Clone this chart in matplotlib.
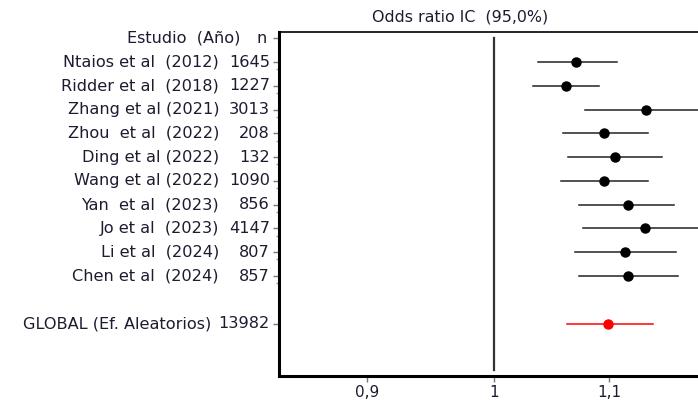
import numpy as np
import matplotlib.pyplot as plt
from matplotlib.transforms import blended_transform_factory
from matplotlib.ticker import NullLocator, FixedLocator

estudios = ["Ntaios et al  (2012)", "Ridder et al  (2018)", "Zhang et al (2021)",
            "Zhou  et al  (2022)", "Ding et al (2022)", "Wang et al (2022)",
            "Yan  et al  (2023)", "Jo et al  (2023)", "Li et al  (2024)",
            "Chen et al  (2024)"]
n = [1645, 1227, 3013, 208, 132, 1090, 856, 4147, 807, 857]
odds = [1.070, 1.061, 1.134, 1.095, 1.105, 1.095, 1.117, 1.133, 1.115, 1.117]
ic_inf = [1.037, 1.033, 1.078, 1.059, 1.063, 1.057, 1.073, 1.076, 1.069, 1.073]
ic_sup = [1.107, 1.091, 1.192, 1.136, 1.149, 1.136, 1.161, 1.194, 1.163, 1.165]

global_label = "GLOBAL (Ef. Aleatorios)"
global_n = 13982
global_or = 1.099
global_inf = 1.062
global_sup = 1.141

xticks = [0.9, 1.0, 1.1]
xticklabels = ["0,9", "1", "1,1"]

txt = "#1c1c30"
plt.rcParams['font.family'] = ['DejaVu Sans']

fig = plt.figure(figsize=(6.98, 4.0), dpi=100)
ax = fig.add_axes([279 / 698, 0.0608, 461 / 698, 0.8584])

filas = np.arange(1, len(estudios) + 1)
fila_global = len(estudios) + 2

for y, o, lo, hi in zip(filas, odds, ic_inf, ic_sup):
    ax.plot([lo, hi], [y, y], color="#222222", lw=1.1, zorder=2)
    ax.plot(o, y, "o", color="black", ms=6.5, zorder=3)

ax.plot([global_inf, global_sup], [fila_global, fila_global], color="#ff0000", lw=1.1, zorder=2)
ax.plot(global_or, fila_global, "o", color="#ff0000", ms=6.5, zorder=3)

ax.plot([1, 1], [0, 13.95], color="#333333", lw=1.6, zorder=1)

ax.set_xscale("log")
ax.set_xlim(0.8364, 1.2262)
ax.set_ylim(14.19, -0.25)

ax.xaxis.set_major_locator(FixedLocator(xticks))
ax.xaxis.set_minor_locator(NullLocator())
ax.set_xticklabels(xticklabels, fontsize=11, color=txt)
ax.tick_params(axis="x", length=4, width=1, color="#777777", pad=3)

ax.set_yticks([0] + list(filas) + [fila_global])
ax.set_yticklabels([])
ax.set_yticks(filas + 0.3, minor=True)
ax.tick_params(axis="y", which="major", length=4, width=1, color="#777777")
ax.tick_params(axis="y", which="minor", length=2, width=1, color="#999999")

ax.spines["left"].set_linewidth(2.2)
ax.spines["bottom"].set_linewidth(2.2)
ax.spines["top"].set_linewidth(1.2)
ax.spines["right"].set_visible(False)

# columna de estudios y tamaño muestral a la izquierda del eje
tr = blended_transform_factory(fig.transFigure, ax.transData)
fs = 11.6
ax.text(240 / 698, 0, "Estudio  (Año)", transform=tr, ha="right", va="center",
        fontsize=fs, color=txt, clip_on=False)
ax.text(267 / 698, 0, "n", transform=tr, ha="right", va="center",
        fontsize=fs, color=txt, clip_on=False)
for y, e, k in zip(filas, estudios, n):
    ax.text(219 / 698, y, e, transform=tr, ha="right", va="center",
            fontsize=fs, color=txt, clip_on=False)
    ax.text(270 / 698, y, str(k), transform=tr, ha="right", va="center",
            fontsize=fs, color=txt, clip_on=False)
ax.text(211 / 698, fila_global, global_label, transform=tr, ha="right", va="center",
        fontsize=fs, color=txt, clip_on=False)
ax.text(270 / 698, fila_global, str(global_n), transform=tr, ha="right", va="center",
        fontsize=fs, color=txt, clip_on=False)

fig.text(460 / 698, 1 - 17 / 400, "Odds ratio IC  (95,0%)", ha="center", va="center",
         fontsize=11.4, color=txt)

fig.savefig("out.png", dpi=100)
